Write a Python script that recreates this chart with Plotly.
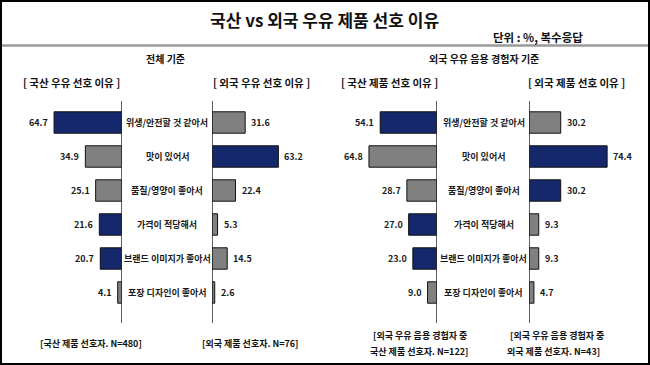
import plotly.graph_objects as go

W, H = 650, 365

categories = ["위생/안전할 것 같아서", "맛이 있어서", "품질/영양이 좋아서",
              "가격이 적당해서", "브랜드 이미지가 좋아서", "포장 디자인이 좋아서"]

all_domestic = [64.7, 34.9, 25.1, 21.6, 20.7, 4.1]
all_foreign = [31.6, 63.2, 22.4, 5.3, 14.5, 2.6]
exp_domestic = [54.1, 64.8, 28.7, 27.0, 23.0, 9.0]
exp_foreign = [30.2, 74.4, 30.2, 9.3, 9.3, 4.7]

NAVY = "#15286b"
GREY = "#808080"
all_domestic_colors = [NAVY, GREY, GREY, NAVY, NAVY, GREY]
all_foreign_colors = [GREY, NAVY, GREY, GREY, GREY, GREY]
exp_domestic_colors = [NAVY, GREY, GREY, NAVY, NAVY, GREY]
exp_foreign_colors = [GREY, NAVY, NAVY, GREY, GREY, GREY]

title = "국산 vs 외국 우유 제품 선호 이유"
unit_note = "단위 : %, 복수응답"
section_titles = ["전체 기준", "외국 우유 음용 경험자 기준"]
panel_headers = ["[ 국산 우유 선호 이유 ]", "[ 외국 우유 선호 이유 ]",
                 "[ 국산 제품 선호 이유 ]", "[ 외국 제품 선호 이유 ]"]
footnotes_single = ["[국산 제품 선호자. N=480]", "[외국 제품 선호자. N=76]"]
footnotes_double = [["[외국 우유 음용 경험자 중", "국산 제품 선호자. N=122]"],
                    ["[외국 우유 음용 경험자 중", "외국 제품 선호자. N=43]"]]

FONT = "Noto Sans CJK KR"
TXT = "#1a1a1a"

def px(x):
    return x / W

def py(y):
    return (H - y) / H

SCALE = 1.05
R = 80
SPAN = SCALE * R
axis_px = [122, 212, 437, 529]
reversed_ = [True, False, True, False]
series = [all_domestic, all_foreign, exp_domestic, exp_foreign]
colors = [all_domestic_colors, all_foreign_colors, exp_domestic_colors, exp_foreign_colors]

y_top, y_bot = 101, 323
row0, step = 122.5, 34.0
yr_top = -(row0 - y_top) / step
yr_bot = 5 + (y_bot - (row0 + 5 * step)) / step

fig = go.Figure()
layout = dict(width=W, height=H, margin=dict(l=0, r=0, t=0, b=0),
              paper_bgcolor="white", plot_bgcolor="rgba(0,0,0,0)",
              showlegend=False, font=dict(family=FONT, color=TXT))
annotations = []
shapes = []

for i in range(4):
    xa = "x" if i == 0 else f"x{i+1}"
    ya = "y" if i == 0 else f"y{i+1}"
    a = axis_px[i]
    if reversed_[i]:
        dom = [px(a - SPAN), px(a)]
        rng = [R, 0]
    else:
        dom = [px(a), px(a + SPAN)]
        rng = [0, R]
    layout["xaxis" if i == 0 else f"xaxis{i+1}"] = dict(
        domain=dom, range=rng, visible=False, anchor=ya, fixedrange=True)
    layout["yaxis" if i == 0 else f"yaxis{i+1}"] = dict(
        domain=[py(y_bot), py(y_top)], range=[yr_bot, yr_top], visible=False,
        anchor=xa, type="linear", fixedrange=True)
    fig.add_trace(go.Bar(
        x=series[i], y=list(range(len(categories))), orientation="h",
        marker=dict(color=colors[i], line=dict(color="#111111", width=1)),
        width=0.63, xaxis=xa, yaxis=ya, hoverinfo="skip"))
    for j, v in enumerate(series[i]):
        annotations.append(dict(
            x=v, y=j, xref=xa, yref=ya, text=f"{v:.1f}", showarrow=False,
            xanchor="right" if reversed_[i] else "left",
            xshift=-4 if reversed_[i] else 4,
            font=dict(size=9, family=FONT, weight="bold", color=TXT)))
    shapes.append(dict(type="line", xref=xa, yref="paper", x0=0, x1=0,
                       y0=py(y_bot), y1=py(y_top),
                       line=dict(color="#2a2a2a", width=1.5)))

# center category labels
for cx, ya in [(167, "y"), (484, "y3")]:
    for j, c in enumerate(categories):
        annotations.append(dict(
            x=px(cx), y=j, xref="paper", yref=ya, text=c, showarrow=False,
            xanchor="center", font=dict(size=9, family=FONT, weight="bold", color=TXT)))

# title and notes
annotations.append(dict(x=px(324), y=py(19), xref="paper", yref="paper", text=title,
                        showarrow=False, xanchor="center", yanchor="middle",
                        font=dict(size=17, family=FONT, weight="bold", color="#111")))
annotations.append(dict(x=px(538), y=py(37), xref="paper", yref="paper", text=unit_note,
                        showarrow=False, xanchor="center", yanchor="middle",
                        font=dict(size=11.5, family=FONT, weight="bold", color="#111")))
for cx, t in zip([165, 484], section_titles):
    annotations.append(dict(x=px(cx), y=py(58), xref="paper", yref="paper", text=t,
                            showarrow=False, xanchor="center", yanchor="middle",
                            font=dict(size=10, family=FONT, weight="bold", color="#111")))
for cx, t in zip([71, 261, 389, 576], panel_headers):
    annotations.append(dict(x=px(cx), y=py(83), xref="paper", yref="paper", text=t,
                            showarrow=False, xanchor="center", yanchor="middle",
                            font=dict(size=10.5, family=FONT, weight="bold", color="#111")))
for cx, t in zip([91, 250], footnotes_single):
    annotations.append(dict(x=px(cx), y=py(343), xref="paper", yref="paper", text=t,
                            showarrow=False, xanchor="center", yanchor="middle",
                            font=dict(size=9, family=FONT, weight="bold", color="#111")))
for lx, lines in zip([368, 505], footnotes_double):
    for k, (ly, t) in enumerate(zip([335, 351], lines)):
        annotations.append(dict(x=px(lx + (3 if k == 0 else 0)), y=py(ly), xref="paper",
                                yref="paper", text=t, showarrow=False,
                                xanchor="left", yanchor="middle",
                                font=dict(size=9, family=FONT, weight="bold", color="#111")))

shapes.append(dict(type="line", xref="paper", yref="paper", x0=0, x1=1,
                   y0=py(45.5), y1=py(45.5), line=dict(color="#9a9a9a", width=2.5)))
shapes.append(dict(type="rect", xref="paper", yref="paper", x0=0, x1=1, y0=0, y1=1,
                   line=dict(color="#000000", width=4)))

layout["annotations"] = annotations
layout["shapes"] = shapes
fig.update_layout(**layout)
fig.write_html("out.html", config={"displayModeBar": False},
               post_script="document.body.style.margin='0';document.body.style.overflow='hidden';")
